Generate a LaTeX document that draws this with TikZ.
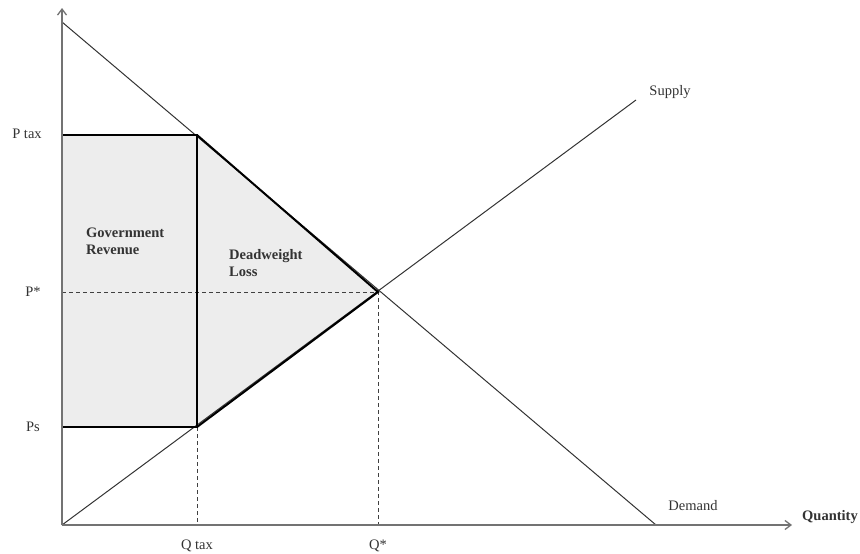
\documentclass[tikz,border=0pt]{standalone}
\usepackage{fontspec}
\setmainfont{Liberation Serif}
\usetikzlibrary{arrows.meta}
\tikzset{
  axis/.style={black!55, line width=1.3pt, -{Straight Barb[length=6pt,width=9pt]}},
  curve/.style={black!80, line width=1pt},
  taxbox/.style={black, line width=2pt, line join=miter},
  guide/.style={black!75, line width=0.9pt, dash pattern=on 4pt off 3pt},
  lbl/.style={font=\fontsize{14.5}{17}\selectfont, text=black!80, inner sep=1pt},
  blbl/.style={lbl, font=\fontsize{14.5}{17}\selectfont\bfseries, align=left}
}
\begin{document}
\begin{tikzpicture}[x=1pt,y=-1pt]
  \useasboundingbox (0,0) rectangle (860,554);
  % points of the diagram
  \coordinate (O) at (62,525);
  \coordinate (ytop) at (62,8);
  \coordinate (xend) at (792,525);
  \coordinate (dtop) at (62,22);
  \coordinate (dbot) at (656,525);
  \coordinate (stop) at (636,100);
  \coordinate (E) at (378,292);
  \coordinate (T) at (197,135);
  \coordinate (S) at (197,427);
  \coordinate (PT) at (62,135);
  \coordinate (PS) at (62,427);
  \coordinate (PE) at (62,292);
  \coordinate (QT) at (197,525);
  \coordinate (QE) at (378,525);
  % shaded areas
  \fill[black!7] (PT) -- (T) -- (E) -- (S) -- (PS) -- cycle;
  % guides
  \draw[guide] (PE) -- (E) -- (QE);
  \draw[guide] (S) -- (QT);
  % demand and supply
  \draw[curve] (dtop) -- (dbot);
  \draw[curve] (O) -- (stop);
  % tax wedge
  \draw[taxbox] (PS) -- (PT) -- (T) -- (S) -- cycle;
  \draw[taxbox] (T) -- (E) -- (S);
  % axes
  \draw[axis] (O) -- (ytop);
  \draw[axis] (O) -- (xend);
  % labels
  \node[lbl] (ptax) at (27,134) {P tax};
  \node[lbl] (pstar) at (33,292) {P*};
  \node[lbl] (ps) at (33,427) {Ps};
  \node[lbl] (qtax) at (197,546) {Q tax};
  \node[lbl] (qstar) at (378,546) {Q*};
  \node[lbl] (supply) at (670,92) {Supply};
  \node[lbl] (demand) at (693,506) {Demand};
  \node[blbl, anchor=west] (quantity) at (801,517) {Quantity};
  \node[blbl, anchor=west] (rev) at (85,241) {Government\\Revenue};
  \node[blbl, anchor=west] (dwl) at (228,263) {Deadweight\\Loss};
\end{tikzpicture}
\end{document}
